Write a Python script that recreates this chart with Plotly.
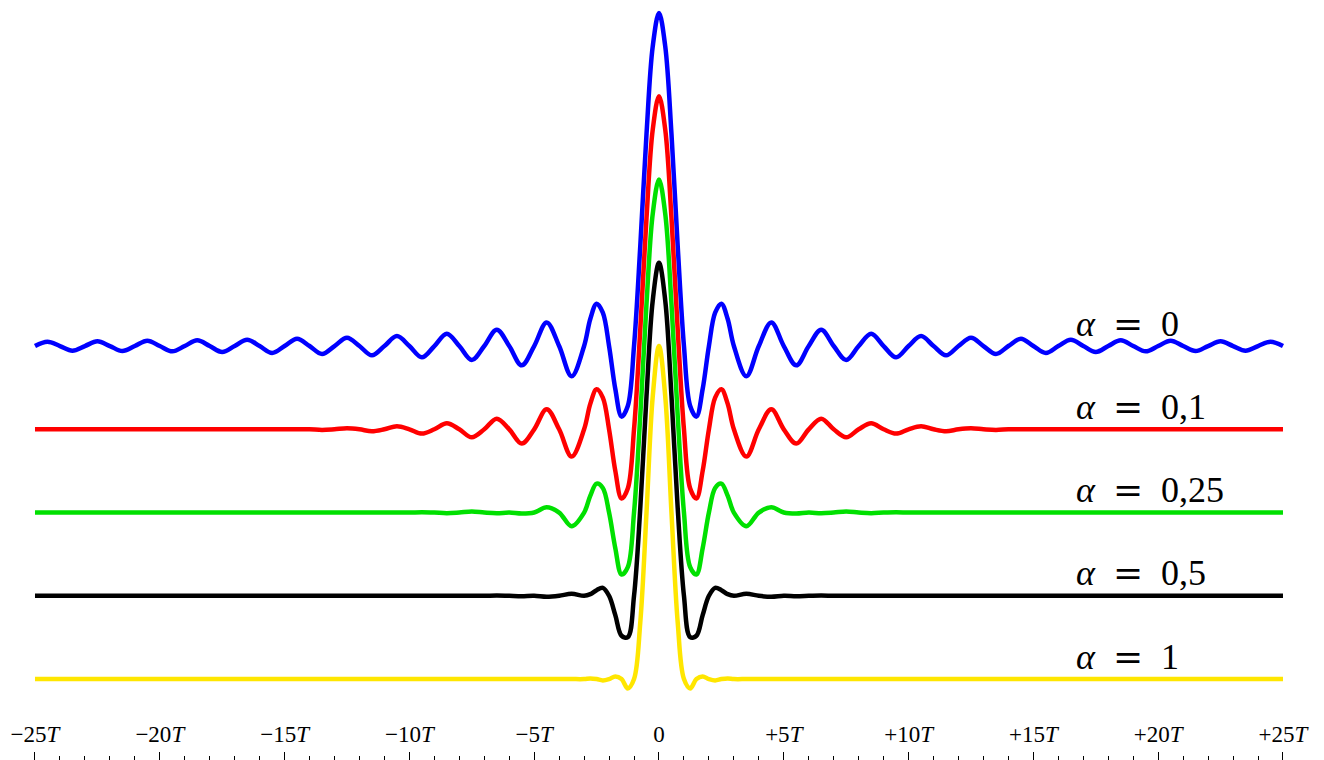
import plotly.graph_objects as go

# Time axis in units of T
x_T = [
    -25, -24.5, -24, -23.5, -23, -22.5, -22, -21.5, -21, -20.5,
    -20, -19.5, -19, -18.5, -18, -17.5, -17, -16.5, -16, -15.5,
    -15, -14.5, -14, -13.5, -13, -12.5, -12, -11.5, -11, -10.5,
    -10, -9.5, -9, -8.5, -8, -7.5, -7, -6.5, -6, -5.5,
    -5, -4.5, -4, -3.5,
    -3, -2.75, -2.5, -2.25, -2, -1.75, -1.5, -1.25, -1, -0.75, -0.5, -0.25,
    0,
    0.25, 0.5, 0.75, 1, 1.25, 1.5, 1.75, 2, 2.25, 2.5, 2.75, 3,
    3.5, 4, 4.5, 5, 5.5, 6, 6.5, 7, 7.5, 8, 8.5, 9, 9.5, 10,
    10.5, 11, 11.5, 12, 12.5, 13, 13.5, 14, 14.5, 15,
    15.5, 16, 16.5, 17, 17.5, 18, 18.5, 19, 19.5, 20,
    20.5, 21, 21.5, 22, 22.5, 23, 23.5, 24, 24.5, 25,
]

# alpha = 0
h_a0 = [
    0, 0.013, 0, -0.014, 0, 0.014, 0, -0.015, 0, 0.016,
    0, -0.016, 0, 0.017, 0, -0.018, 0, 0.019, 0, -0.021,
    0, 0.022, 0, -0.024, 0, 0.025, 0, -0.028, 0, 0.030,
    0, -0.034, 0, 0.037, 0, -0.042, 0, 0.049, 0, -0.058,
    0, 0.071, 0, -0.091,
    0, 0.082, 0.127, 0.100, 0, -0.129, -0.212, -0.180, 0, 0.300, 0.637, 0.900,
    1.0,
    0.900, 0.637, 0.300, 0, -0.180, -0.212, -0.129, 0, 0.100, 0.127, 0.082, 0,
    -0.091, 0, 0.071, 0, -0.058, 0, 0.049, 0, -0.042, 0, 0.037, 0, -0.034, 0,
    0.030, 0, -0.028, 0, 0.025, 0, -0.024, 0, 0.022, 0,
    -0.021, 0, 0.019, 0, -0.018, 0, 0.017, 0, -0.016, 0,
    0.016, 0, -0.015, 0, 0.014, 0, -0.014, 0, 0.013, 0,
]

# alpha = 0,1
h_a01 = [
    0, 0, 0, 0, 0, 0, 0, 0, 0, 0,
    0, 0, 0, 0, 0, 0, 0, 0, 0, 0,
    0, 0, 0, -0.002, 0, 0.003, 0, -0.006, 0, 0.009,
    0, -0.013, 0, 0.018, 0, -0.024, 0, 0.032, 0, -0.043,
    0, 0.060, 0, -0.082,
    0, 0.077, 0.120, 0.095, 0, -0.125, -0.208, -0.178, 0, 0.299, 0.635, 0.900,
    1.0,
    0.900, 0.635, 0.299, 0, -0.178, -0.208, -0.125, 0, 0.095, 0.120, 0.077, 0,
    -0.082, 0, 0.060, 0, -0.043, 0, 0.032, 0, -0.024, 0, 0.018, 0, -0.013, 0,
    0.009, 0, -0.006, 0, 0.003, 0, -0.002, 0, 0, 0,
    0, 0, 0, 0, 0, 0, 0, 0, 0, 0,
    0, 0, 0, 0, 0, 0, 0, 0, 0, 0,
]

# alpha = 0,25
h_a025 = [
    0, 0, 0, 0, 0, 0, 0, 0, 0, 0,
    0, 0, 0, 0, 0, 0, 0, 0, 0, 0,
    0, 0, 0, 0, 0, 0, 0, 0, 0, 0,
    0, 0.001, 0, -0.002, 0, 0.003, 0, -0.002, 0, -0.003,
    0, 0.016, 0, -0.041,
    0, 0.051, 0.087, 0.074, 0, -0.107, -0.186, -0.164, 0, 0.290, 0.627, 0.897,
    1.0,
    0.897, 0.627, 0.290, 0, -0.164, -0.186, -0.107, 0, 0.074, 0.087, 0.051, 0,
    -0.041, 0, 0.016, 0, -0.003, 0, -0.002, 0, 0.003, 0, -0.002, 0, 0.001, 0,
    0, 0, 0, 0, 0, 0, 0, 0, 0, 0,
    0, 0, 0, 0, 0, 0, 0, 0, 0, 0,
    0, 0, 0, 0, 0, 0, 0, 0, 0, 0,
]

# alpha = 0,5
h_a05 = [
    0, 0, 0, 0, 0, 0, 0, 0, 0, 0,
    0, 0, 0, 0, 0, 0, 0, 0, 0, 0,
    0, 0, 0, 0, 0, 0, 0, 0, 0, 0,
    0, 0, 0, 0, 0, 0, 0, 0.001, 0, -0.001,
    0, -0.003, 0, 0.006,
    0, 0.005, 0.017, 0.024, 0, -0.058, -0.120, -0.124, 0, 0.263, 0.600, 0.887,
    1.0,
    0.887, 0.600, 0.263, 0, -0.124, -0.120, -0.058, 0, 0.024, 0.017, 0.005, 0,
    0.006, 0, -0.003, 0, -0.001, 0, 0.001, 0, 0, 0, 0, 0, 0, 0,
    0, 0, 0, 0, 0, 0, 0, 0, 0, 0,
    0, 0, 0, 0, 0, 0, 0, 0, 0, 0,
    0, 0, 0, 0, 0, 0, 0, 0, 0, 0,
]

# alpha = 1
h_a1 = [
    0, 0, 0, 0, 0, 0, 0, 0, 0, 0,
    0, 0, 0, 0, 0, 0, 0, 0, 0, 0,
    0, 0, 0, 0, 0, 0, 0, 0, 0, 0,
    0, 0, 0, 0, 0, 0, 0, 0, 0, 0,
    0, 0, 0, 0,
    0, 0.002, 0, -0.004, 0, 0.008, 0, -0.028, 0, 0.170, 0.500, 0.849,
    1.0,
    0.849, 0.500, 0.170, 0, -0.028, 0, 0.008, 0, -0.004, 0, 0.002, 0,
    0, 0, 0, 0, 0, 0, 0, 0, 0, 0, 0, 0, 0, 0,
    0, 0, 0, 0, 0, 0, 0, 0, 0, 0,
    0, 0, 0, 0, 0, 0, 0, 0, 0, 0,
    0, 0, 0, 0, 0, 0, 0, 0, 0, 0,
]

series_labels = ["0", "0,1", "0,25", "0,5", "1"]
series_values = [h_a0, h_a01, h_a025, h_a05, h_a1]
series_shift = [0.0, -0.25, -0.5, -0.75, -1.0]
series_colors = ["#0000ff", "#ff0000", "#00e000", "#000000", "#ffe600"]

tick_vals = [-25, -20, -15, -10, -5, 0, 5, 10, 15, 20, 25]
tick_text = ["\u221225<i>T</i>", "\u221220<i>T</i>", "\u221215<i>T</i>",
             "\u221210<i>T</i>", "\u22125<i>T</i>", "0",
             "+5<i>T</i>", "+10<i>T</i>", "+15<i>T</i>", "+20<i>T</i>",
             "+25<i>T</i>"]
minor_tick_vals = [-25, -24, -23, -22, -21, -20, -19, -18, -17, -16, -15, -14, -13,
                   -12, -11, -10, -9, -8, -7, -6, -5, -4, -3, -2, -1, 0, 1, 2, 3,
                   4, 5, 6, 7, 8, 9, 10, 11, 12, 13, 14, 15, 16, 17, 18, 19, 20,
                   21, 22, 23, 24, 25]

EQ = "<span style='font-family:DejaVu Serif'>=</span>"

fig = go.Figure()
for lab, vals, sh, col in zip(series_labels, series_values, series_shift, series_colors):
    fig.add_trace(go.Scatter(
        x=x_T, y=[v + sh for v in vals], mode="lines",
        line=dict(color=col, width=4.5, shape="spline", smoothing=1.0),
        name="\u03b1 = " + lab, showlegend=False, hoverinfo="skip",
    ))
    fig.add_annotation(
        x=16.62, y=sh + 0.069, xref="x", yref="y", xanchor="left", yanchor="middle",
        text="<i>\u03b1</i>\u2002" + EQ + "\u2002" + lab, showarrow=False,
        font=dict(family="Liberation Serif", size=36, color="black"),
    )

fig.update_layout(
    width=1324, height=760,
    margin=dict(l=0, r=0, t=0, b=0, pad=0),
    paper_bgcolor="white", plot_bgcolor="white",
    xaxis=dict(
        range=[-26.402, 26.643], showgrid=False, zeroline=False, showline=False,
        tickmode="array", tickvals=tick_vals, ticktext=tick_text,
        ticks="inside", ticklen=8, tickwidth=1, tickcolor="black",
        ticklabelposition="inside", ticklabelstandoff=7,
        tickfont=dict(family="Liberation Serif", size=23, color="black"),
        minor=dict(tickmode="array", tickvals=minor_tick_vals, ticks="inside",
                   ticklen=4, tickwidth=1, tickcolor="black", showgrid=False),
        fixedrange=True, automargin=False,
    ),
    yaxis=dict(range=[-1.243, 1.039], visible=False, fixedrange=True),
)

fig.write_html("out.html", config={"displayModeBar": False},
               post_script="document.body.style.margin='0';")
